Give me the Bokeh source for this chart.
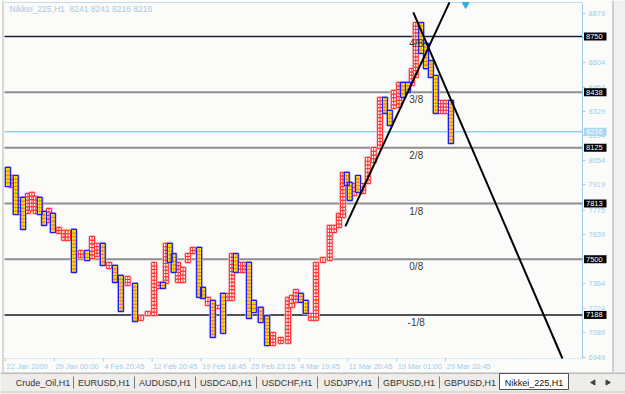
import math
from bokeh.plotting import figure
from bokeh.models import Range1d
from bokeh.layouts import column
from bokeh.embed import file_html
from bokeh.resources import INLINE
from bokeh.core.properties import value

# ---------------- data ----------------
symbol = "Nikkei_225,H1"
ohlc_text = "8241 8241 8216 8216"

col_x = [0.0, 0.8, 1.6, 2.5, 3.1, 4.1, 4.9, 5.7, 6.5, 7.4,
         8.4, 9.2, 10.4, 11.5, 12.3, 13.5, 14.9, 16.2, 17.2, 18.2,
         19.4, 20.7, 21.9, 23.1, 24.5, 26.0, 27.2, 28.6, 29.9, 30.9,
         31.7, 32.3, 33.1, 33.9, 34.8, 35.8, 36.8, 37.8, 39.1, 39.9,
         40.9, 41.9, 42.9, 44.0, 45.0, 45.8, 46.6, 47.6, 48.5, 49.3,
         50.3, 51.7, 53.0, 54.2, 55.8, 57.3, 58.1, 58.9, 59.9, 60.9,
         62.0, 63.0, 64.4, 65.8, 66.7, 67.7, 68.5, 69.3, 69.9, 70.8,
         71.6, 72.6, 73.6, 74.8, 76.1, 77.1, 78.1, 78.9, 80.0, 80.8,
         81.8, 82.6, 83.4, 84.5, 85.5, 86.5, 87.5, 88.5, 89.6, 90.6]
col_hi = [8015, 7970, 7970, 7847, 7847, 7869, 7875, 7852, 7847, 7768,
          7785, 7757, 7678, 7662, 7662, 7667, 7549, 7549, 7628, 7589,
          7589, 7482, 7465, 7409, 7403, 7364, 7184, 7207, 7482, 7370,
          7370, 7589, 7589, 7532, 7482, 7454, 7532, 7566, 7566, 7342,
          7286, 7269, 7241, 7308, 7308, 7532, 7532, 7482, 7482, 7482,
          7269, 7230, 7184, 7089, 7061, 7286, 7297, 7330, 7308, 7269,
          7196, 7482, 7510, 7690, 7690, 7757, 7987, 7987, 7931, 7925,
          7970, 7925, 8071, 8127, 8408, 8408, 8335, 8447, 8492, 8492,
          8492, 8570, 8828, 8828, 8711, 8615, 8531, 8391, 8391, 8391]
col_lo = [7908, 7903, 7751, 7751, 7667, 7757, 7774, 7757, 7751, 7690,
          7706, 7650, 7645, 7606, 7606, 7426, 7510, 7493, 7504, 7516,
          7465, 7448, 7370, 7207, 7353, 7151, 7157, 7184, 7184, 7336,
          7336, 7364, 7482, 7426, 7370, 7370, 7482, 7532, 7286, 7280,
          7241, 7061, 7224, 7084, 7269, 7269, 7426, 7426, 7426, 7168,
          7201, 7145, 7016, 7016, 7028, 7028, 7230, 7258, 7258, 7196,
          7157, 7157, 7482, 7493, 7650, 7678, 7734, 7914, 7830, 7858,
          7875, 7869, 7925, 8043, 8122, 8318, 8251, 8346, 8352, 8408,
          8436, 8475, 8520, 8655, 8570, 8520, 8318, 8318, 8318, 8150]
col_dir = list("dududuuudd" "uduuududuu" "dudduduuuu" "dudduuuudd"
               "ududuuduud" "ddduuuuudd" "uuuuuuuddu" "duuuudduud"
               "duudddduud")

box_size = 19.53

price_ticks = [8879, 8744, 8604, 8464, 8329, 8194, 8054, 7919, 7775,
               7639, 7500, 7364, 7224, 7089, 6949]
mm_levels = [8750, 8437.5, 8125, 7812.5, 7500, 7187.5]
mm_names = ["4/8", "3/8", "2/8", "1/8", "0/8", "-1/8"]
mm_tags = ["8750", "8438", "8125", "7813", "7500", "7188"]
current_price = 8216

date_pos = [0, 10, 20, 30, 40, 50, 60, 70, 80, 90]
date_labels = ["22 Jan 2009", "29 Jan 00:00", "4 Feb 20:45", "12 Feb 20:45",
               "19 Feb 18:45", "25 Feb 23:15", "4 Mar 19:45", "11 Mar 20:45",
               "19 Mar 01:00", "29 Mar 20:45"]

trend_a_x = [69.5, 90.8]
trend_a_y = [7684, 8941]
trend_b_x = [83.4, 113.9]
trend_b_y = [8885, 6943]

tabs = ["Crude_Oil,H1", "EURUSD,H1", "AUDUSD,H1", "USDCAD,H1", "USDCHF,H1",
        "USDJPY,H1", "GBPUSD,H1", "GBPUSD,H1", "Nikkei_225,H1"]

# ---------------- geometry / style ----------------
FONT = value("Liberation Sans")
LBLUE = "#9fcbea"
BG = "#fbfcfa"

X0, X1 = -0.2, 118.0          # chart area (left edge, price-scale line)
Y0, Y1 = 6943, 8935           # chart area (bottom, top)
W, H = 625, 372
CL, CR, CT, CB = 4, 582, 3, 358   # chart area in page pixels
sx = (CR - CL) / (X1 - X0)    # px per x unit
sy = (CB - CT) / (Y1 - Y0)    # px per price unit
XA, XB = X0 - CL / sx, X1 + (W - CR) / sx
YA, YB = Y0 - (H - CB) / sy, Y1 + CT / sy


def dx(px):
    return px / sx


def dy(px):
    return px / sy


p = figure(width=W, height=H, x_range=Range1d(XA, XB), y_range=Range1d(YA, YB),
           toolbar_location=None, output_backend="svg", min_border=0,
           x_axis_location=None, y_axis_location=None)
p.background_fill_color = BG
p.border_fill_color = BG
p.outline_line_color = None
p.xgrid.grid_line_color = None
p.ygrid.grid_line_color = None

# window frame pieces
p.quad(left=[X1 + dx(30)], right=[XB], bottom=[YA], top=[YB],
       fill_color="#f0f0f0", line_color=None)
p.line([X1 + dx(30.5)] * 2, [YA, YB], line_color="#a9a9a9", line_width=1)
p.line([XA + dx(2.5)] * 2, [YA, YB], line_color="#b5b5b5", line_width=1)
p.line([X0, X1], [Y1 + dy(1), Y1 + dy(1)], line_color="#c4dcee", line_width=1)

# murrey lines
mm_colors = ["#1d1d3a", "#8e8e8e", "#8e8e8e", "#8e8e8e", "#8e8e8e", "#1a1a1a"]
mm_widths = [1.5, 2, 2, 2, 2, 1.5]
for lv, c, w in zip(mm_levels, mm_colors, mm_widths):
    p.line([X0, X1], [lv, lv], line_color=c, line_width=w)
p.line([X0, X1], [current_price, current_price], line_color="#8fd0f2", line_width=1.5)

# columns
up_l, up_r, up_t, up_b = [], [], [], []
dn_l, dn_r, dn_t, dn_b = [], [], [], []
ux, uy, uh = [], [], []
wx, wy, wh = [], [], []
for x0, hi, lo, d in zip(col_x, col_hi, col_lo, col_dir):
    n = max(1, round((hi - lo) / box_size))
    h = (hi - lo) / n
    for k in range(n):
        if d == "d":
            wx.append(x0 + 0.5); wy.append(lo + (k + 0.5) * h); wh.append(h)
        else:
            ux.append(x0 + 0.5); uy.append(lo + (k + 0.5) * h); uh.append(h)
    if d == "d":
        dn_l.append(x0); dn_r.append(x0 + 1); dn_t.append(hi); dn_b.append(lo)
    else:
        up_l.append(x0); up_r.append(x0 + 1); up_t.append(hi); up_b.append(lo)

p.quad(left=up_l, right=up_r, top=up_t, bottom=up_b, fill_color=None,
       line_color="#ffb4b4", line_width=3, line_alpha=0.8)
p.quad(left=dn_l, right=dn_r, top=dn_t, bottom=dn_b, fill_color=None,
       line_color="#b4b4ff", line_width=3, line_alpha=0.8)
p.rect(x=ux, y=uy, width=1, height=uh, fill_color="#ffffff",
       line_color="#ff2a2a", line_width=1)
p.rect(x=wx, y=wy, width=1, height=wh, fill_color="#ffff00",
       line_color="#ff4040", line_width=0.55)
ucx = [(l + r) / 2 for l, r in zip(up_l, up_r)]
dcx = [(l + r) / 2 for l, r in zip(dn_l, dn_r)]
p.segment(x0=ucx, y0=up_b, x1=ucx, y1=up_t, line_color="#ff2a2a", line_width=1)
p.segment(x0=dcx, y0=dn_b, x1=dcx, y1=dn_t, line_color="#ff4040", line_width=0.55)
p.quad(left=dn_l, right=dn_r, top=dn_t, bottom=dn_b, fill_color=None,
       line_color="#1a1aff", line_width=1.2)

# trend lines
p.line(trend_a_x, trend_a_y, line_color="black", line_width=2)
p.line(trend_b_x, trend_b_y, line_color="black", line_width=2)

# murrey names
p.text(x=[84.0] * len(mm_levels), y=mm_levels, text=mm_names, text_align="center",
       text_baseline="top", y_offset=2, text_font=FONT, text_font_size="10px",
       text_color="#3a3a3a")

# title
p.text(x=[X0 + dx(5)], y=[Y1 - dy(5)], text=[symbol + "\u00a0\u00a0" + ohlc_text],
       text_align="left", text_baseline="middle", text_font=FONT,
       text_font_size="8.5px", text_color="#a9c9df")

# chart-shift marker
p.scatter([94.1], [Y1 - dy(1)], marker="inverted_triangle", size=7,
          fill_color="#34aee6", line_color="#34aee6")

# price scale (right)
p.line([X1, X1], [Y0, Y1], line_color=LBLUE, line_width=1)
p.segment(x0=[X1] * len(price_ticks), y0=price_ticks,
          x1=[X1 + dx(3)] * len(price_ticks), y1=price_ticks,
          line_color=LBLUE, line_width=1)
p.text(x=[X1 + dx(6)] * len(price_ticks), y=price_ticks,
       text=[str(v) for v in price_ticks], text_align="left", text_baseline="middle",
       text_font=FONT, text_font_size="7.5px", text_color=LBLUE)

# time scale (bottom)
p.line([X0, X1], [Y0, Y0], line_color=LBLUE, line_width=1, line_dash="1 2")
p.segment(x0=date_pos, y0=[Y0] * len(date_pos), x1=date_pos,
          y1=[Y0 - dy(3)] * len(date_pos), line_color=LBLUE, line_width=1)
p.text(x=[v + dx(1) for v in date_pos], y=[Y0 - dy(7.5)] * len(date_pos),
       text=date_labels, text_align="left", text_baseline="middle",
       text_font=FONT, text_font_size="7.5px", text_color=LBLUE)

# level tags
tag_l, tag_r = X1 + dx(1.5), X1 + dx(24)
p.quad(left=[tag_l] * len(mm_levels), right=[tag_r] * len(mm_levels),
       bottom=[v - dy(4) for v in mm_levels], top=[v + dy(4) for v in mm_levels],
       fill_color="black", line_color=None)
p.text(x=[tag_l + dx(2)] * len(mm_levels), y=mm_levels, text=mm_tags,
       text_align="left", text_baseline="middle", text_font=FONT,
       text_font_size="7.5px", text_color="white")
p.quad(left=[tag_l], right=[tag_r], bottom=[current_price - dy(4)],
       top=[current_price + dy(4)], fill_color="#a8d6f0", line_color=None)
p.text(x=[tag_l + dx(2)], y=[current_price], text=[str(current_price)],
       text_align="left", text_baseline="middle", text_font=FONT,
       text_font_size="7.5px", text_color="white")

# tab bar
t = figure(width=625, height=22, x_range=Range1d(0, 625), y_range=Range1d(22, 0),
           toolbar_location=None, output_backend="svg", min_border=0,
           x_axis_location=None, y_axis_location=None)
t.background_fill_color = "#eeede9"
t.border_fill_color = "#eeede9"
t.outline_line_color = None
t.xgrid.grid_line_color = None
t.ygrid.grid_line_color = None
t.line([0, 625], [0.5, 0.5], line_color="#8a8a8a", line_width=1)
t.line([0, 625], [19.5, 19.5], line_color="#c8c8c8", line_width=1)
inactive = tabs[:-1]
sep_x = [73 + 61 * i for i in range(len(inactive))]
centers = [s - 30.5 for s in sep_x]
t.segment(x0=sep_x, y0=[4] * len(sep_x), x1=sep_x, y1=[16] * len(sep_x),
          line_color="#7a7a7a", line_width=1)
t.text(x=centers, y=[10] * len(inactive), text=inactive, text_align="center",
       text_baseline="middle", text_font=FONT, text_font_size="9px",
       text_color="#333333")
t.quad(left=[499], right=[568], top=[1], bottom=[17], fill_color="white",
       line_color="#505050", line_width=1)
t.text(x=[533.5], y=[10], text=[tabs[-1]], text_align="center",
       text_baseline="middle", text_font=FONT, text_font_size="9px",
       text_color="#111111")
t.scatter([593, 607], [10, 10], marker="triangle", angle=[math.pi / 2, -math.pi / 2],
          size=5, fill_color="#404040", line_color="#404040")

layout = column(p, t, spacing=0)
open("out.html", "w").write(file_html(layout, INLINE))
